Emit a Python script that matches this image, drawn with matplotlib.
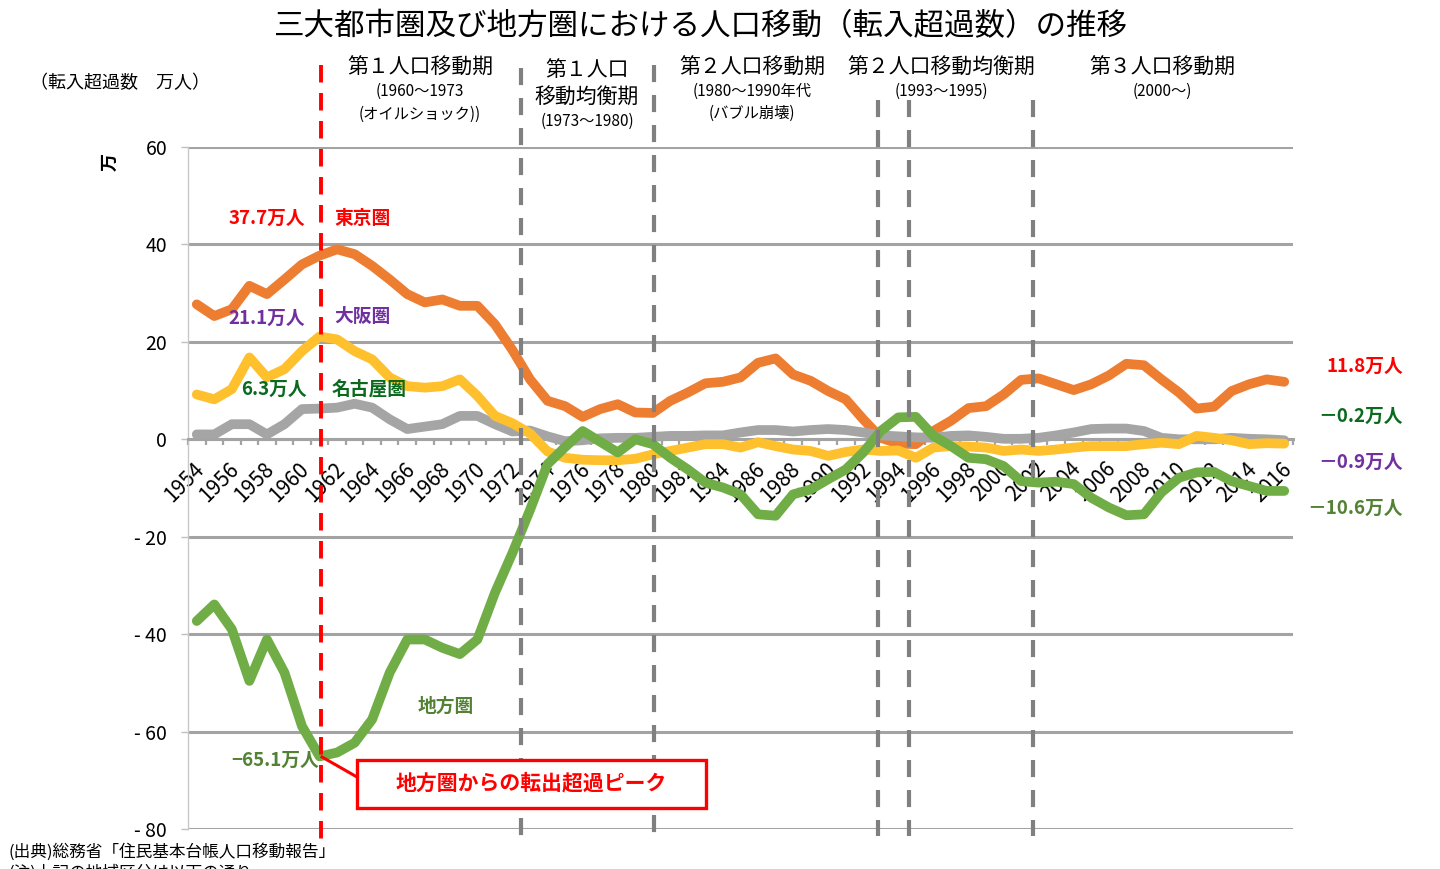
import matplotlib
matplotlib.use('Agg')
import matplotlib.pyplot as plt
import matplotlib.transforms as mtransforms
from matplotlib.patches import Rectangle
from matplotlib.lines import Line2D
import numpy as np

plt.rcParams['font.family'] = ['Noto Sans CJK JP', 'DejaVu Sans']

# ---------------- data ----------------
years = list(range(1954, 2017))
tokyo = [27.7, 25.3, 26.7, 31.5, 29.8, 32.8, 35.9, 37.7, 39.0, 38.0,
         35.6, 32.8, 29.8, 28.1, 28.7, 27.4, 27.4, 23.6, 18.3, 12.3,
         7.9, 6.8, 4.6, 6.2, 7.2, 5.5, 5.4, 7.9, 9.6, 11.5,
         11.8, 12.7, 15.7, 16.6, 13.3, 12.0, 9.9, 8.2, 4.1, 0.3,
         -0.9, -1.0, 1.7, 3.8, 6.4, 6.8, 9.2, 12.2, 12.5, 11.3,
         10.1, 11.3, 13.1, 15.5, 15.2, 12.3, 9.6, 6.3, 6.7, 9.9,
         11.3, 12.3, 11.8]
osaka = [9.2, 8.2, 10.3, 16.8, 12.7, 14.4, 18.1, 21.1, 20.5, 18.1,
         16.4, 12.7, 10.9, 10.6, 10.9, 12.3, 8.9, 4.8, 3.3, 1.2,
         -2.5, -3.8, -4.2, -4.3, -4.3, -4.0, -3.1, -2.4, -1.7, -1.0,
         -1.0, -1.7, -0.6, -1.4, -2.1, -2.4, -3.4, -2.6, -2.1, -2.4,
         -2.3, -3.8, -1.7, -1.4, -1.5, -1.7, -2.4, -2.1, -2.4, -2.1,
         -1.7, -1.4, -1.4, -1.4, -1.0, -0.7, -1.0, 0.7, 0.3, -0.2,
         -1.0, -0.8, -0.9]
nagoya = [1.0, 1.0, 3.1, 3.1, 1.0, 3.1, 6.2, 6.3, 6.5, 7.3,
          6.5, 4.1, 2.1, 2.6, 3.1, 4.8, 4.8, 3.1, 1.6, 1.8,
          0.6, -0.4, -0.2, 0.2, 0.3, 0.3, 0.5, 0.7, 0.7, 0.8,
          0.8, 1.4, 1.9, 1.9, 1.6, 1.9, 2.1, 1.9, 1.4, 0.8,
          0.6, 0.4, 0.3, 0.7, 0.8, 0.5, 0.1, 0.1, 0.3, 0.8,
          1.4, 2.1, 2.2, 2.2, 1.7, 0.3, 0.0, 0.0, 0.0, 0.3,
          0.1, 0.0, -0.2]
chiho = [-37.3, -33.9, -39.0, -49.6, -41.1, -47.9, -58.9, -65.1, -64.3, -62.3,
         -57.5, -47.9, -41.1, -41.1, -42.8, -44.1, -41.1, -31.5, -23.3, -14.5,
         -5.1, -1.6, 1.7, -0.5, -2.7, 0.0, -1.0, -3.8, -6.2, -8.9,
         -9.9, -11.3, -15.4, -15.7, -11.3, -10.3, -8.2, -6.2, -2.7, 1.7,
         4.5, 4.6, 0.7, -1.4, -3.8, -4.1, -5.5, -8.6, -8.9, -8.7,
         -9.2, -12.0, -14.0, -15.6, -15.4, -10.9, -7.9, -6.8, -6.7, -8.6,
         -9.6, -10.6, -10.6]
ytick_vals = [60, 40, 20, 0, -20, -40, -60, -80]
ytick_labels = ['60', '40', '20', '0', '- 20', '- 40', '- 60', '- 80']
# period boundary lines (category position)
red_line_pos = 7.1
grey_line_pos = [18.5, 26.07, 38.84, 40.6, 47.68]

# ---------------- figure ----------------
W, H = 1440, 869
fig = plt.figure(figsize=(W / 100, H / 100), dpi=100)
fig.patch.set_facecolor('white')


def fx(px):
    return px / W


def fy(py):
    return 1 - py / H


ax = fig.add_axes([fx(188), fy(829), (1293 - 188) / W, (829 - 147) / H])
n = len(years)
xs = np.arange(n)
ax.set_xlim(-0.5, n - 0.5)
ax.set_ylim(-80, 60)

GRID = '#a3a3a3'
ax.set_yticks(ytick_vals)
ax.set_yticklabels(ytick_labels, fontsize=14)
ax.yaxis.grid(True, color=GRID, lw=2.2)
ax.set_axisbelow(True)
ax.tick_params(axis='y', length=5, width=1, color='#bfbfbf', pad=10)

for s in ['top', 'right']:
    ax.spines[s].set_visible(False)
ax.spines['left'].set_color('#c8c8c8')
ax.spines['left'].set_linewidth(1.0)
ax.spines['bottom'].set_position(('data', 0))
ax.spines['bottom'].set_color(GRID)
ax.spines['bottom'].set_linewidth(2.2)

ax.set_xticks(xs[::2])
ax.set_xticklabels([str(y) for y in years[::2]], fontsize=15,
                   rotation=45, ha='right', va='center',
                   rotation_mode='anchor')
ax.set_xticks(np.arange(-0.5, n, 1), minor=True)
ax.tick_params(axis='x', which='major', length=0, pad=19)
ax.tick_params(axis='x', which='minor', length=4, width=1.6, color=GRID,
               direction='out')
off = mtransforms.ScaledTranslation(4 / 100, 0, fig.dpi_scale_trans)
for lab in ax.get_xticklabels():
    lab.set_transform(lab.get_transform() + off)

# series
lw = 7.0
kw = dict(lw=lw, solid_joinstyle='round', solid_capstyle='round')
ax.plot(xs, tokyo, color='#ED7D31', zorder=3, **kw)
ax.plot(xs, nagoya, color='#A5A5A5', zorder=4, **kw)
ax.plot(xs, osaka, color='#FFC02E', zorder=5, **kw)
ax.plot(xs, chiho, color='#70AD47', zorder=6, **kw)

# vertical period lines
bt = mtransforms.blended_transform_factory(ax.transData, ax.transAxes)


def afrac(py):
    return (829 - py) / (829 - 147)


ax.plot([red_line_pos, red_line_pos], [afrac(65), afrac(840)], transform=bt,
        color='#FF0000', lw=2.8, dashes=(4.5, 2.7), clip_on=False, zorder=8)
grey_tops = [68, 65, 100, 100, 100]
grey_bots = [842, 836, 836, 836, 836]
for p, t, b in zip(grey_line_pos, grey_tops, grey_bots):
    ax.plot([p, p], [afrac(t), afrac(b)], transform=bt, color='#808080',
            lw=3.0, dashes=(4.1, 3.1), clip_on=False, zorder=8)

# ---------------- texts ----------------
fig.text(fx(700), fy(27), '三大都市圏及び地方圏における人口移動（転入超過数）の推移',
         fontsize=22, ha='center', va='center')
fig.text(fx(120), fy(83), '（転入超過数　万人）', fontsize=13, ha='center', va='center')
fig.text(fx(110), fy(162), '万', fontsize=13, ha='center', va='center',
         rotation=90, fontweight='bold')

big = 15
small = 11
fig.text(fx(420), fy(68), '第１人口移動期', fontsize=big, ha='center', va='center')
fig.text(fx(420), fy(91), '(1960～1973', fontsize=small, ha='center', va='center')
fig.text(fx(420), fy(114), '(オイルショック))', fontsize=small, ha='center', va='center')

fig.text(fx(587), fy(70), '第１人口', fontsize=big, ha='center', va='center')
fig.text(fx(587), fy(97), '移動均衡期', fontsize=big, ha='center', va='center')
fig.text(fx(587), fy(121), '(1973～1980)', fontsize=small, ha='center', va='center')

fig.text(fx(752), fy(68), '第２人口移動期', fontsize=big, ha='center', va='center')
fig.text(fx(752), fy(91), '(1980～1990年代', fontsize=small, ha='center', va='center')
fig.text(fx(752), fy(113), '(バブル崩壊)', fontsize=small, ha='center', va='center')

fig.text(fx(941), fy(68), '第２人口移動均衡期', fontsize=big, ha='center', va='center')
fig.text(fx(941), fy(91), '(1993～1995)', fontsize=small, ha='center', va='center')

fig.text(fx(1162), fy(68), '第３人口移動期', fontsize=big, ha='center', va='center')
fig.text(fx(1162), fy(91), '(2000～)', fontsize=small, ha='center', va='center')

RED = '#FF0000'
PURPLE = '#7030A0'
DKGREEN = '#0A6A1E'
OLIVE = '#548235'
lab_kw = dict(fontsize=13.5, fontweight='bold', va='center', zorder=10)
fig.text(fx(305), fy(218), '37.7万人', color=RED, ha='right', **lab_kw)
fig.text(fx(334), fy(218), '東京圏', color=RED, ha='left', **lab_kw)
fig.text(fx(305), fy(318), '21.1万人', color=PURPLE, ha='right', **lab_kw)
fig.text(fx(334), fy(316), '大阪圏', color=PURPLE, ha='left', **lab_kw)
fig.text(fx(307), fy(389), '6.3万人', color=DKGREEN, ha='right', **lab_kw)
fig.text(fx(332), fy(389), '名古屋圏', color=DKGREEN, ha='left', **lab_kw)
fig.text(fx(446), fy(706), '地方圏', color=OLIVE, ha='center', **lab_kw)
fig.text(fx(319), fy(760), '−65.1万人', color=OLIVE, ha='right', **lab_kw)

fig.text(fx(1403), fy(366), '11.8万人', color=RED, ha='right', **lab_kw)
fig.text(fx(1403), fy(416), '－0.2万人', color=DKGREEN, ha='right', **lab_kw)
fig.text(fx(1403), fy(462), '－0.9万人', color=PURPLE, ha='right', **lab_kw)
fig.text(fx(1403), fy(508), '－10.6万人', color=OLIVE, ha='right', **lab_kw)

# callout
fig.add_artist(Line2D([fx(322), fx(357)], [fy(757), fy(777)], color=RED, lw=2.2,
                      transform=fig.transFigure, zorder=11))
fig.add_artist(Rectangle((fx(357), fy(808)), (706 - 357) / W, (808 - 760) / H,
                         transform=fig.transFigure, facecolor='white',
                         edgecolor=RED, lw=2.4, zorder=12))
fig.text(fx(531), fy(783), '地方圏からの転出超過ピーク', color=RED, fontsize=15,
         fontweight='bold', ha='center', va='center', zorder=13)

fig.text(fx(8), fy(852), '(出典)総務省「住民基本台帳人口移動報告」', fontsize=12,
         ha='left', va='center')
fig.text(fx(8), fy(864), '(注)上記の地域区分は以下の通り。', fontsize=12,
         ha='left', va='top')

fig.savefig('out.png', dpi=100, facecolor='white')
